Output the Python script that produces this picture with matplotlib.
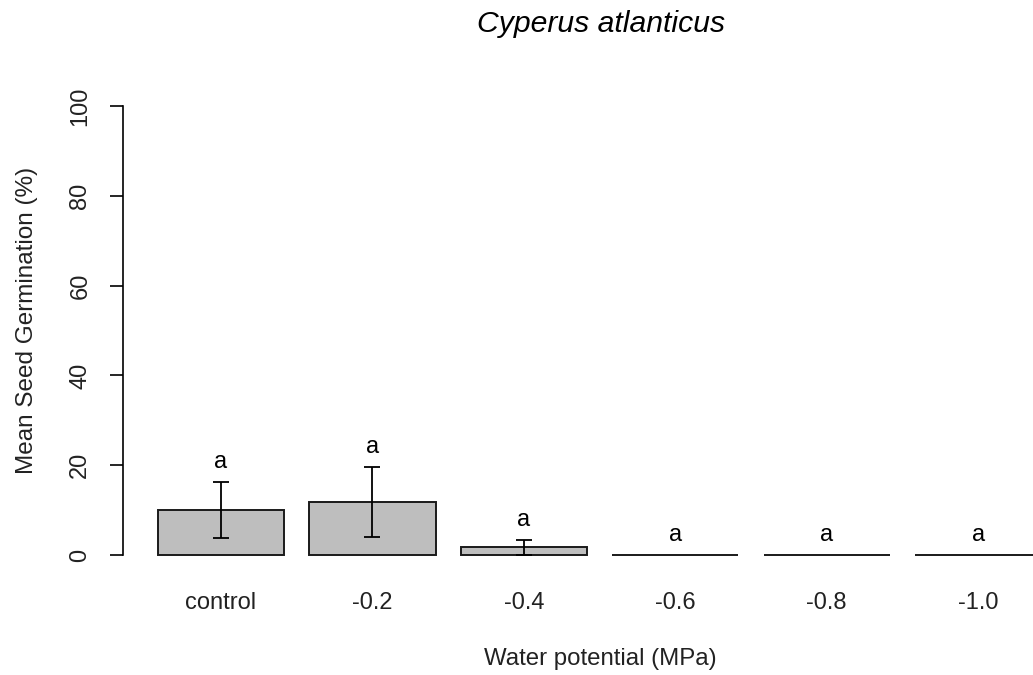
"""Mean seed germination of Cyperus atlanticus across water potentials."""

import matplotlib
matplotlib.use("Agg")
import matplotlib.pyplot as plt

plt.rcParams["font.family"] = ["Liberation Sans", "DejaVu Sans"]

treatments = ["control", "-0.2", "-0.4", "-0.6", "-0.8", "-1.0"]
germination = [10.0, 11.9, 1.7, 0.0, 0.0, 0.0]
std_err = [6.3, 7.8, 1.6, 0.0, 0.0, 0.0]
letters = ["a", "a", "a", "a", "a", "a"]

# R-style barplot layout: width 1, space 0.2
positions = [0.7 + 1.2 * i for i in range(len(treatments))]

fig = plt.figure(figsize=(10.33, 6.75), dpi=100)
ax = fig.add_axes([0.1187, 0.1511, 0.9235, 0.7185])

ax.bar(positions, germination, width=1.0, color="#bebebe",
       edgecolor="#1a1a1a", linewidth=1.4, zorder=2)

has_err = [i for i, e in enumerate(std_err) if e > 0]
ax.errorbar([positions[i] for i in has_err], [germination[i] for i in has_err],
            yerr=[std_err[i] for i in has_err], fmt="none", ecolor="black",
            elinewidth=1.3, capsize=6, capthick=1.3, zorder=3)

for x, m, e, lab in zip(positions, germination, std_err, letters):
    ax.text(x, m + e + 4.4, lab, ha="center", va="center", fontsize=17)

ax.set_xlim(-0.08, 7.48)
ax.set_ylim(-4, 104)

for side in ["top", "right", "bottom"]:
    ax.spines[side].set_visible(False)
ax.spines["left"].set_bounds(0, 100)
ax.spines["left"].set_linewidth(1.2)

ax.set_yticks([0, 20, 40, 60, 80, 100])
ax.tick_params(axis="y", length=9.5, width=1.2, pad=13, labelsize=17,
               labelcolor="#222222")
for lab in ax.get_yticklabels():
    lab.set_rotation(90)
    lab.set_va("center")

ax.set_xticks(positions)
ax.set_xticklabels(treatments)
ax.tick_params(axis="x", length=0, pad=13.5, labelsize=17, labelcolor="#222222")

ax.set_ylabel("Mean Seed Germination (%)", fontsize=17.5, color="#222222")
ax.yaxis.set_label_coords(-0.0891, 0.5216)

fig.text(600 / 1033, 1 - 665 / 675, "Water potential (MPa)", ha="center",
         va="baseline", fontsize=17.3, color="#222222")
fig.text(601 / 1033, 1 - 32 / 675, "Cyperus atlanticus", ha="center",
         va="baseline", fontsize=21.7, style="italic", color="black")

fig.savefig("out.png", dpi=100)
